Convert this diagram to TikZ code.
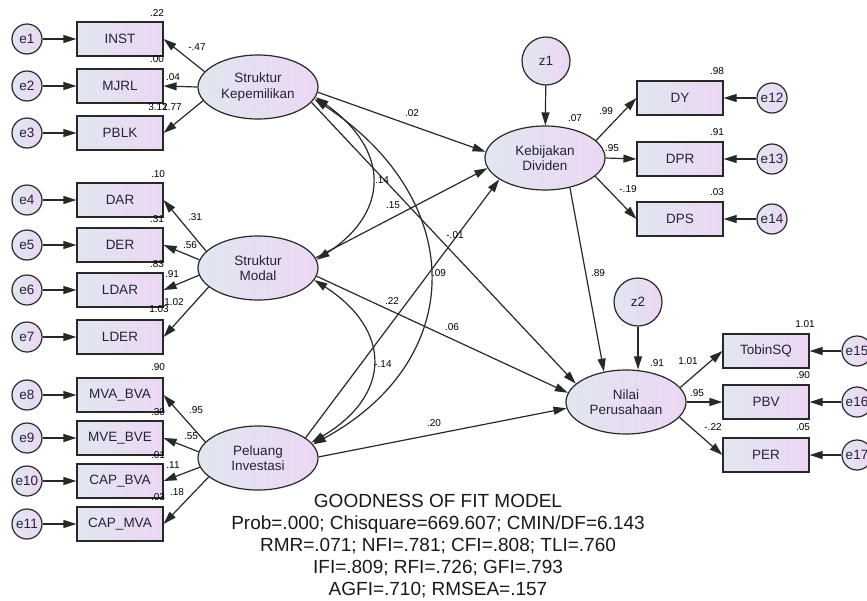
\documentclass[tikz,border=0pt]{standalone}
\usepackage{fontspec}
\setmainfont{Liberation Sans}
\usetikzlibrary{arrows.meta,shapes.geometric}
\definecolor{lineC}{RGB}{40,40,40}
\definecolor{fillL}{RGB}{225,231,240}
\definecolor{fillR}{RGB}{236,214,242}
\definecolor{txtC}{RGB}{35,35,55}
\begin{document}
\begin{tikzpicture}[x=1pt,y=-1pt,
  every node/.style={text=txtC},
  obs/.style={draw=lineC, line width=1.2pt, rectangle, minimum width=86pt, minimum height=34pt, inner sep=0pt, left color=fillL, right color=fillR, font=\fontsize{13.5}{14}\selectfont},
  lat/.style={draw=lineC, line width=1.2pt, ellipse, minimum width=120pt, minimum height=64pt, inner sep=0pt, left color=fillL, right color=fillR, font=\fontsize{13.5}{15.5}\selectfont, align=center},
  err/.style={draw=lineC, line width=1.2pt, circle, minimum size=30pt, inner sep=0pt, left color=fillL, right color=fillR, font=\fontsize{13.5}{14}\selectfont},
  dist/.style={err, minimum size=48pt},
  arr/.style={draw=lineC, line width=1.2pt, -{Triangle[length=13pt,width=8pt]}},
  cov/.style={draw=lineC, line width=1.2pt, {Triangle[length=13pt,width=8pt]}-{Triangle[length=13pt,width=8pt]}},
  lbl/.style={font=\fontsize{10}{11}\selectfont, inner sep=0pt, text=black},
]
\useasboundingbox (0,0) rectangle (867,600);
\clip (0,0) rectangle (867,600);

% observed indicators left
\node[obs] (INST) at (120,39) {INST};
\node[obs] (MJRL) at (120,86) {MJRL};
\node[obs] (PBLK) at (120,133) {PBLK};
\node[obs] (DAR) at (120,200) {DAR};
\node[obs] (DER) at (120,245) {DER};
\node[obs] (LDAR) at (120,290) {LDAR};
\node[obs] (LDER) at (120,337) {LDER};
\node[obs] (MVA) at (120,395) {MVA\_BVA};
\node[obs] (MVE) at (120,438) {MVE\_BVE};
\node[obs] (CAPB) at (120,481) {CAP\_BVA};
\node[obs] (CAPM) at (120,524) {CAP\_MVA};

\node[err] (e1) at (27,39) {e1};
\node[err] (e2) at (27,86) {e2};
\node[err] (e3) at (27,133) {e3};
\node[err] (e4) at (27,200) {e4};
\node[err] (e5) at (27,245) {e5};
\node[err] (e6) at (27,290) {e6};
\node[err] (e7) at (27,337) {e7};
\node[err] (e8) at (27,395) {e8};
\node[err] (e9) at (27,438) {e9};
\node[err] (e10) at (27,481) {e10};
\node[err] (e11) at (27,524) {e11};

% latent variables
\node[lat] (SK) at (258,87) {Struktur\\Kepemilikan};
\node[lat] (SM) at (258,268) {Struktur\\Modal};
\node[lat] (PI) at (258,458) {Peluang\\Investasi};
\node[lat] (KD) at (545,158) {Kebijakan\\Dividen};
\node[lat] (NP) at (626,402) {Nilai\\Perusahaan};
\node[dist] (z1) at (546,61) {z1};
\node[dist] (z2) at (638,302) {z2};

% right indicators
\node[obs] (DY) at (680,98) {DY};
\node[obs] (DPR) at (680,159) {DPR};
\node[obs] (DPS) at (680,219) {DPS};
\node[obs] (TQ) at (766,351) {TobinSQ};
\node[obs] (PBV) at (766,402) {PBV};
\node[obs] (PER) at (766,455) {PER};
\node[err] (e12) at (772,98) {e12};
\node[err] (e13) at (772,159) {e13};
\node[err] (e14) at (772,219) {e14};
\node[err] (e15) at (857,351) {e15};
\node[err] (e16) at (857,402) {e16};
\node[err] (e17) at (857,455) {e17};

% error arrows
\foreach \e/\b in {e1/INST,e2/MJRL,e3/PBLK,e4/DAR,e5/DER,e6/LDAR,e7/LDER,e8/MVA,e9/MVE,e10/CAPB,e11/CAPM,e12/DY,e13/DPR,e14/DPS,e15/TQ,e16/PBV,e17/PER}
  \draw[arr] (\e) -- (\b);

% loadings
\draw[arr] (SK.164) -- (INST.east);
\draw[arr] (SK.180) -- (MJRL.east);
\draw[arr] (SK.194) -- (PBLK.east);
\draw[arr] (SM.162) -- (DAR.east);
\draw[arr] (SM.172) -- (DER.east);
\draw[arr] (SM.187) -- (LDAR.east);
\draw[arr] (SM.201) -- (LDER.east);
\draw[arr] (PI.163) -- (MVA.east);
\draw[arr] (PI.174) -- (MVE.east);
\draw[arr] (PI.189) -- (CAPB.east);
\draw[arr] (PI.201) -- (CAPM.east);
\draw[arr] (KD.19) -- (DY.west);
\draw[arr] (KD.0) -- (DPR.west);
\draw[arr] (KD.-20) -- (DPS.west);
\draw[arr] (NP.15) -- (TQ.west);
\draw[arr] (NP.0) -- (PBV.west);
\draw[arr] (NP.-16) -- (PER.west);

% disturbances
\draw[arr] (z1) -- (KD);
\draw[arr] (z2) -- (z2 |- NP.north);

% structural paths
\draw[arr] (SK.-5) -- (KD.174);
\draw[arr] (SK.-16) -- (NP.160);
\draw[arr] (SM.10) -- (KD.190);
\draw[arr] (PI.23) -- (KD.205);
\draw[arr] (SM.-8) -- (NP.171);
\draw[arr] (PI.1) -- (NP.186);
\draw[arr] (KD.-50) -- (NP.126);

% covariances
\draw[cov] (SK.-10) .. controls (390,150) and (390,212) .. (SM.8);
\draw[cov] (SK.-12) .. controls (468,200) and (468,360) .. (PI.14);
\draw[cov] (SM.-12) .. controls (392,330) and (392,395) .. (PI.16);

% labels left
\node[lbl] (r1) at (157,13) {.22};
\node[lbl] (w1) at (197,47) {-.47};
\node[lbl] (r2) at (157,59) {.00};
\node[lbl] (w2) at (173,77) {.04};
\node[lbl] (r3) at (158,107) {3.12};
\node[lbl] (w3) at (172,107) {1.77};
\node[lbl] (r4) at (158,174) {.10};
\node[lbl] (w4) at (195,217) {.31};
\node[lbl] (r5) at (157,219) {.31};
\node[lbl] (w5) at (190,245) {.56};
\node[lbl] (r6) at (157,264) {.83};
\node[lbl] (w6) at (172,274) {.91};
\node[lbl] (w7) at (174,302) {1.02};
\node[lbl] (r7) at (159,309) {1.03};
\node[lbl] (r8) at (158,367) {.90};
\node[lbl] (w8) at (196,410) {.95};
\node[lbl] (r9) at (158,412) {.30};
\node[lbl] (w9) at (191,436) {.55};
\node[lbl] (r10) at (158,455) {.01};
\node[lbl] (w10) at (173,465) {.11};
\node[lbl] (w11) at (177,492) {.18};
\node[lbl] (r11) at (158,497) {.03};

% labels middle
\node[lbl] (s1) at (412,113) {.02};
\node[lbl] (c1) at (382,180) {.14};
\node[lbl] (s2) at (393,205) {.15};
\node[lbl] (s3) at (455,235) {-.01};
\node[lbl] (c2) at (439,273) {.09};
\node[lbl] (s4) at (392,301) {.22};
\node[lbl] (s5) at (452,327) {.06};
\node[lbl] (c3) at (383,364) {-.14};
\node[lbl] (s6) at (434,423) {.20};
\node[lbl] (s7) at (598,273) {.89};

% labels right
\node[lbl] (rKD) at (575,118) {.07};
\node[lbl] (w12) at (606,111) {.99};
\node[lbl] (w13) at (612,148) {.95};
\node[lbl] (w14) at (628,189) {-.19};
\node[lbl] (r12) at (717,71) {.98};
\node[lbl] (r13) at (717,132) {.91};
\node[lbl] (r14) at (717,192) {.03};
\node[lbl] (rNP) at (657,363) {.91};
\node[lbl] (w15) at (688,361) {1.01};
\node[lbl] (r15) at (805,324) {1.01};
\node[lbl] (w16) at (697,393) {.95};
\node[lbl] (r16) at (803,375) {.90};
\node[lbl] (w17) at (713,427) {-.22};
\node[lbl] (r17) at (803,427) {.05};

% fit statistics
\node[align=center, font=\fontsize{19}{22}\selectfont, text=black!90, inner sep=0pt] (fit) at (438,546)
 {GOODNESS OF FIT MODEL\\
  Prob=.000; Chisquare=669.607; CMIN/DF=6.143\\
  RMR=.071; NFI=.781; CFI=.808; TLI=.760\\
  IFI=.809; RFI=.726; GFI=.793\\
  AGFI=.710; RMSEA=.157};
\end{tikzpicture}
\end{document}
